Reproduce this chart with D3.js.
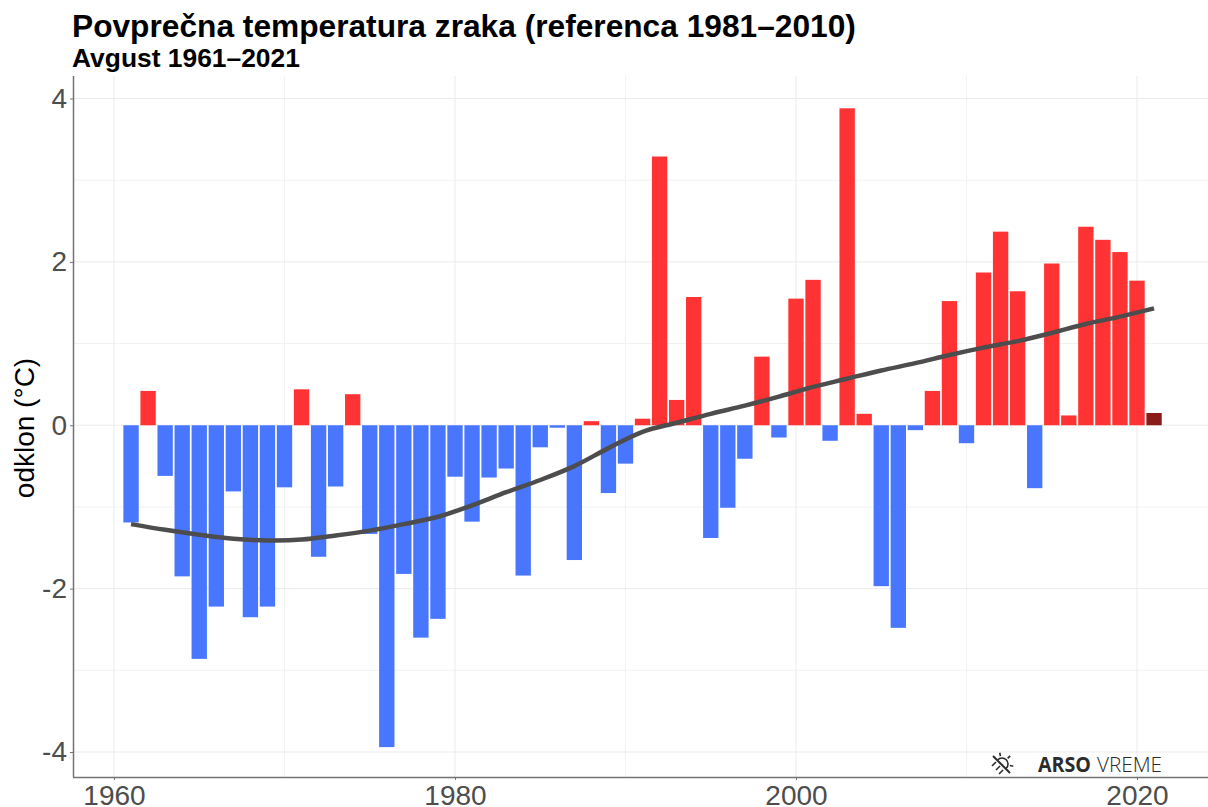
<!DOCTYPE html>
<html>
<head>
<meta charset="utf-8">
<script src="https://cdn.jsdelivr.net/npm/d3@7"></script>
<style>
  html, body { margin: 0; padding: 0; background: #fff; }
  svg { display: block; }
  text { font-family: "Liberation Sans", Arial, sans-serif; }
</style>
</head>
<body>
<svg id="chart"></svg>
<script>
const years = d3.range(1961, 2022);
const anomalies = [
  -1.19, 0.42, -0.62, -1.85, -2.86, -2.22, -0.81, -2.35, -2.22, -0.76,
  0.44, -1.61, -0.75, 0.38, -1.33, -3.94, -1.82, -2.60, -2.37, -0.63,
  -1.18, -0.64, -0.53, -1.84, -0.27, -0.03, -1.65, 0.05, -0.83, -0.47,
  0.08, 3.29, 0.31, 1.57, -1.38, -1.01, -0.41, 0.84, -0.15, 1.55,
  1.78, -0.19, 3.88, 0.14, -1.97, -2.48, -0.06, 0.42, 1.52, -0.22,
  1.87, 2.37, 1.64, -0.77, 1.98, 0.12, 2.43, 2.27, 2.12, 1.77,
  0.15
];
const trendYears = [1961, 1963, 1965, 1967, 1969, 1971, 1973, 1975, 1977, 1979, 1981, 1983, 1985, 1987, 1989, 1991, 1993, 1995, 1997, 1999, 2001, 2003, 2005, 2007, 2009, 2011, 2013, 2015, 2017, 2019, 2021];
const trendValues = [-1.21, -1.28, -1.34, -1.39, -1.41, -1.40, -1.35, -1.29, -1.21, -1.12, -0.98, -0.82, -0.67, -0.50, -0.28, -0.08, 0.03, 0.14, 0.24, 0.35, 0.47, 0.57, 0.67, 0.76, 0.86, 0.95, 1.03, 1.13, 1.24, 1.33, 1.43];
const xMajor = [1960, 1980, 2000, 2020];
const xMinor = [1970, 1990, 2010];
const yMajor = [-4, -2, 0, 2, 4];
const yMinor = [-3, -1, 1, 3];

const width = 1208, height = 807;
const panel = { left: 73, right: 1208, top: 76, bottom: 777 };

const svg = d3.select('#chart').attr('width', width).attr('height', height);

const xscale = d3.scaleLinear().domain([1960, 2020]).range([114, 1137]);
const yscale = d3.scaleLinear().domain([-4, 4]).range([752, 98.5]);

// grid
svg.append('g').selectAll('line').data(xMinor).join('line')
    .attr('x1', d => xscale(d)).attr('x2', d => xscale(d))
    .attr('y1', panel.top).attr('y2', panel.bottom)
    .attr('stroke', '#f2f2f2').attr('stroke-width', 1);
svg.append('g').selectAll('line').data(yMinor).join('line')
    .attr('x1', panel.left).attr('x2', panel.right)
    .attr('y1', d => yscale(d)).attr('y2', d => yscale(d))
    .attr('stroke', '#f2f2f2').attr('stroke-width', 1);
svg.append('g').selectAll('line').data(xMajor).join('line')
    .attr('x1', d => xscale(d)).attr('x2', d => xscale(d))
    .attr('y1', panel.top).attr('y2', panel.bottom)
    .attr('stroke', '#ebebeb').attr('stroke-width', 1);
svg.append('g').selectAll('line').data(yMajor).join('line')
    .attr('x1', panel.left).attr('x2', panel.right)
    .attr('y1', d => yscale(d)).attr('y2', d => yscale(d))
    .attr('stroke', '#ebebeb').attr('stroke-width', 1);

// bars
const barWidth = (xscale(1) - xscale(0)) * 0.9;
svg.append('g').selectAll('rect').data(years).join('rect')
    .attr('x', d => xscale(d) - barWidth / 2)
    .attr('width', barWidth)
    .attr('y', (d, i) => yscale(Math.max(0, anomalies[i])))
    .attr('height', (d, i) => Math.abs(yscale(anomalies[i]) - yscale(0)))
    .attr('fill', (d, i) => d === 2021 ? '#8B1A1A' : (anomalies[i] > 0 ? '#FF3333' : '#4876FF'));

// smooth trend
const trendLine = d3.line()
    .x((d, i) => xscale(trendYears[i]))
    .y(d => yscale(d))
    .curve(d3.curveCatmullRom);
svg.append('path')
    .datum(trendValues)
    .attr('d', trendLine)
    .attr('fill', 'none')
    .attr('stroke', '#4d4d4d')
    .attr('stroke-width', 4.5);

// axes
const xaxis = d3.axisBottom(xscale).tickValues(xMajor).tickFormat(d3.format('d')).tickSize(3).tickPadding(5);
const yaxis = d3.axisLeft(yscale).tickValues(yMajor).tickFormat(d => d).tickSize(3).tickPadding(3);

const xg = svg.append('g').attr('transform', `translate(0, ${panel.bottom})`).call(xaxis);
const yg = svg.append('g').attr('transform', `translate(${panel.left}, 0)`).call(yaxis);
xg.select('.domain').attr('d', `M${panel.left},0.5H${panel.right}`).attr('stroke', '#737373').attr('stroke-width', 1.5);
yg.select('.domain').attr('d', `M0.5,${panel.top}V${panel.bottom}`).attr('stroke', '#737373').attr('stroke-width', 1.5);
[xg, yg].forEach(g => {
    g.selectAll('.tick line').attr('stroke', '#737373');
    g.selectAll('.tick text').attr('fill', '#4d4d4d').style('font-size', '28px')
        .style('font-family', '"Liberation Sans", Arial, sans-serif');
});

// labels
svg.append('text').attr('x', 72).attr('y', 37)
    .attr('font-size', 31.7).attr('font-weight', 700).attr('fill', '#000')
    .text('Povprečna temperatura zraka (referenca 1981–2010)');
svg.append('text').attr('x', 72).attr('y', 67)
    .attr('font-size', 26.4).attr('font-weight', 700).attr('fill', '#000')
    .text('Avgust 1961–2021');
svg.append('text')
    .attr('transform', 'translate(34, 428) rotate(-90)')
    .attr('text-anchor', 'middle')
    .attr('font-size', 28).attr('fill', '#000')
    .text('odklon (°C)');

// logo: half sun cut by a diagonal, rain dashes below it
const logo = svg.append('g').attr('transform', 'translate(1002, 764)')
    .attr('stroke', '#2b2b2b').attr('stroke-width', 1.6).attr('fill', 'none');
logo.append('path').attr('d', d3.arc()({
    innerRadius: 6, outerRadius: 6, startAngle: -Math.PI / 4, endAngle: 3 * Math.PI / 4
}));
[-Math.PI / 2 - 0.2, -Math.PI / 4, 0.2].forEach(a => {
    logo.append('line')
        .attr('x1', 8 * Math.cos(a)).attr('y1', 8 * Math.sin(a))
        .attr('x2', 11.5 * Math.cos(a)).attr('y2', 11.5 * Math.sin(a));
});
logo.append('line').attr('x1', -9).attr('y1', -8).attr('x2', 8).attr('y2', 9).attr('stroke-width', 2);
[[-10, 2, -6, -2], [-6, 6, -2, 2], [-3, 10, 1, 6]].forEach(p => {
    logo.append('line').attr('x1', p[0]).attr('y1', p[1]).attr('x2', p[2]).attr('y2', p[3]);
});
svg.append('text').attr('x', 1038).attr('y', 772).attr('textLength', 53).attr('lengthAdjust', 'spacingAndGlyphs')
    .attr('font-size', 21).attr('font-weight', 700).attr('fill', '#2b2b2b')
    .style('font-family', '"Open Sans", sans-serif').text('ARSO');
svg.append('text').attr('x', 1097).attr('y', 772).attr('textLength', 65).attr('lengthAdjust', 'spacingAndGlyphs')
    .attr('font-size', 21).attr('font-weight', 300).attr('fill', '#2b2b2b')
    .style('font-family', '"Open Sans", sans-serif').text('VREME');
</script>
</body>
</html>
